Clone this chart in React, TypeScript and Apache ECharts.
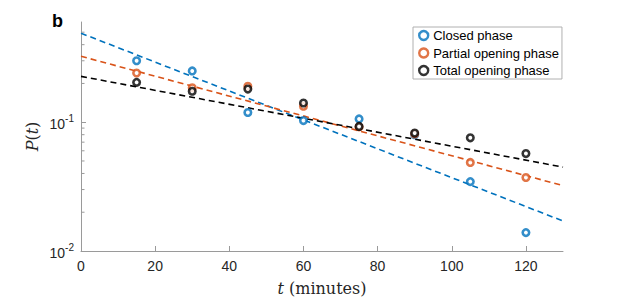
import React, { useEffect, useRef } from 'react';
import * as echarts from 'echarts';

const times = [15, 30, 45, 60, 75, 90, 105, 120];
const closedVals = [0.3, 0.25, 0.119, 0.103, 0.106, 0.08, 0.0346, 0.0139];
const partialVals = [0.241, 0.185, 0.19, 0.133, 0.092, 0.081, 0.0487, 0.0372];
const totalVals = [0.204, 0.174, 0.181, 0.141, 0.0927, 0.0824, 0.0757, 0.0571];

const fitT = [0, 130];
const closedFit = [0.491, 0.0171];
const partialFit = [0.325, 0.0322];
const totalFit = [0.227, 0.0448];

const seriesNames = ['Closed phase', 'Partial opening phase', 'Total opening phase'];
const seriesColors = ['#0072BD', '#D95319', '#000000'];

const xTickValues = [0, 20, 40, 60, 80, 100, 120];
const yMajorTicks = [0.01, 0.1];
const yMinorTicks = [0.02, 0.03, 0.04, 0.05, 0.06, 0.07, 0.08, 0.09, 0.2, 0.3, 0.4, 0.5];

const AXIS_COLOR = '#9a9a9a';
const LABEL_COLOR = '#262626';
const SANS = '"Liberation Sans", Arial, Helvetica, sans-serif';
const SERIF = '"DejaVu Serif", "Liberation Serif", serif';

export default function App() {
  const ref = useRef<HTMLDivElement>(null);
  useEffect(() => {
    if (!ref.current) return;
    const chart = echarts.init(ref.current, undefined, { renderer: 'svg' });
    const valueSets = [closedVals, partialVals, totalVals];
    const fits = [closedFit, partialFit, totalFit];

    const lineSeries = fits.map((f, i) => ({
      type: 'line',
      name: seriesNames[i] + ' fit',
      data: fitT.map((t, k) => [t, f[k]]),
      showSymbol: false,
      symbol: 'none',
      silent: true,
      lineStyle: { color: seriesColors[i], width: 1.6, type: [6, 4] },
      z: 2,
    }));
    const scatterSeries = valueSets.map((vals, i) => ({
      type: 'scatter',
      name: seriesNames[i],
      data: times.map((t, k) => [t, vals[k]]),
      symbol: 'circle',
      symbolSize: 6.5,
      itemStyle: { color: '#ffffff', borderColor: seriesColors[i], borderWidth: 2.6 },
      z: 3,
    }));

    const nameStyle = {
      fontFamily: SERIF,
      fontSize: 16,
      color: LABEL_COLOR,
      rich: { i: { fontFamily: SERIF, fontStyle: 'italic', fontSize: 16, color: LABEL_COLOR } },
    };

    chart.setOption({
      animation: false,
      grid: { left: 81, right: 60, top: 22, bottom: 49, outerBoundsMode: 'none', containLabel: false },
      legend: {
        data: seriesNames,
        orient: 'vertical',
        left: 413,
        top: 27,
        padding: [2, 3, 2, 5],
        itemGap: 4.5,
        itemWidth: 9,
        itemHeight: 9,
        borderColor: '#b0b0b0',
        borderWidth: 1,
        backgroundColor: '#fff',
        itemStyle: { color: '#ffffff', borderWidth: 2.4 },
        textStyle: { fontSize: 13, fontFamily: SANS, color: '#000' },
      },
      xAxis: {
        type: 'value',
        min: 0,
        max: 130,
        interval: 20,
        name: '{i|t} (minutes)',
        nameLocation: 'middle',
        nameGap: 29,
        nameMoveOverlap: false,
        nameTextStyle: nameStyle,
        axisLine: { lineStyle: { color: AXIS_COLOR, width: 1 } },
        axisTick: { inside: true, length: 5, customValues: xTickValues, lineStyle: { color: AXIS_COLOR } },
        axisLabel: { customValues: xTickValues, fontSize: 14, fontFamily: SANS, color: LABEL_COLOR, margin: 8 },
        splitLine: { show: false },
      },
      yAxis: {
        type: 'log',
        logBase: 10,
        min: 0.01,
        max: 0.6,
        name: '{i|P}({i|t})',
        nameLocation: 'middle',
        nameGap: 41,
        nameMoveOverlap: false,
        nameRotate: 90,
        nameTextStyle: nameStyle,
        axisLine: { show: true, lineStyle: { color: AXIS_COLOR, width: 1 } },
        axisTick: { show: true, inside: true, length: 5, customValues: yMajorTicks, lineStyle: { color: AXIS_COLOR } },
        axisLabel: {
          customValues: yMajorTicks,
          margin: 7,
          formatter: (v: number) => `{b|10}{s|${Math.round(Math.log10(v))}}`,
          rich: {
            b: { fontSize: 14, fontFamily: SANS, color: LABEL_COLOR, verticalAlign: 'bottom', lineHeight: 18 },
            s: { fontSize: 10, fontFamily: SANS, color: LABEL_COLOR, verticalAlign: 'top', lineHeight: 10 },
          },
        },
        splitLine: { show: false },
        minorTick: { show: false },
      },
      graphic: [
        {
          type: 'text',
          left: 52,
          top: 12,
          style: { text: 'b', font: 'bold 18px ' + SANS, fill: '#000' },
        },
      ],
      series: [
        ...lineSeries,
        ...scatterSeries,
        {
          type: 'custom',
          name: 'minor ticks',
          silent: true,
          clip: false,
          data: yMinorTicks.map((v) => [0, v]),
          renderItem: (params: any, api: any) => {
            const p = api.coord([0, api.value(1)]);
            return {
              type: 'line',
              shape: { x1: p[0] + 0.5, y1: p[1], x2: p[0] + 3.5, y2: p[1] },
              style: { stroke: AXIS_COLOR, lineWidth: 1 },
            };
          },
          z: 5,
        },
      ],
    });
    return () => chart.dispose();
  }, []);
  return <div ref={ref} style={{ position: 'fixed', left: 0, top: 0, width: 623, height: 300, background: '#fff' }} />;
}
